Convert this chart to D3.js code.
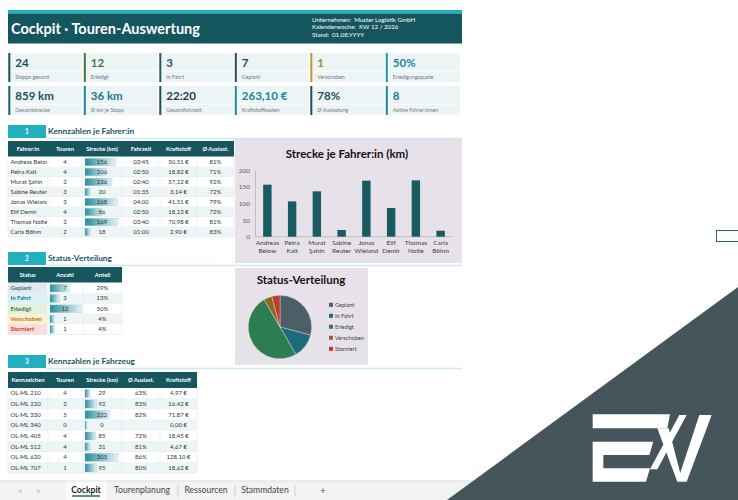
<!DOCTYPE html>
<html>
<head>
<meta charset="utf-8">
<script src="https://cdn.jsdelivr.net/npm/d3@7"></script>
<style>
body { margin: 0; background: #fff; }
svg { display: block; font-family: Lato, "Open Sans", sans-serif; }
</style>
</head>
<body>
<div id="sheet"></div>
<script>
// ---- data ----
const kpiValues1 = ["24", "12", "3", "7", "1", "50%"];
const kpiLabels1 = ["Stopps gesamt", "Erledigt", "In Fahrt", "Geplant", "Verschoben", "Erledigungsquote"];
const kpiValues2 = ["859 km", "36 km", "22:20", "263,10 €", "78%", "8"];
const kpiLabels2 = ["Gesamtstrecke", "Ø km je Stopp", "Gesamtfahrzeit", "Kraftstoffkosten", "Ø Auslastung", "Aktive Fahrer:innen"];

const drivers = ["Andreas Below", "Petra Kalt", "Murat Şahin", "Sabine Reuter", "Jonas Wieland", "Elif Demir", "Thomas Nolte", "Carla Böhm"];
const driverTours = [4, 4, 2, 3, 3, 4, 2, 2];
const driverKm = [156, 106, 136, 20, 168, 86, 169, 18];
const driverTime = ["03:45", "02:50", "02:40", "01:35", "04:00", "02:50", "03:40", "01:00"];
const driverFuel = ["50,51 €", "18,82 €", "57,12 €", "3,14 €", "41,51 €", "18,13 €", "70,98 €", "2,90 €"];
const driverLoad = ["81%", "71%", "92%", "72%", "79%", "72%", "81%", "83%"];
const kmTicks = [0, 50, 100, 150, 200];

const statusNames = ["Geplant", "In Fahrt", "Erledigt", "Verschoben", "Storniert"];
const statusCounts = [7, 3, 12, 1, 1];
const statusShares = ["29%", "13%", "50%", "4%", "4%"];

const vehicles = ["OL-ML 210", "OL-ML 220", "OL-ML 330", "OL-ML 340", "OL-ML 405", "OL-ML 512", "OL-ML 620", "OL-ML 707"];
const vehicleTours = [4, 2, 5, 0, 4, 4, 4, 1];
const vehicleKm = [29, 92, 222, 0, 85, 31, 305, 95];
const vehicleLoad = ["63%", "83%", "82%", "", "72%", "81%", "86%", "80%"];
const vehicleFuel = ["4,97 €", "16,42 €", "71,87 €", "0,00 €", "18,45 €", "4,67 €", "128,10 €", "18,62 €"];

const sheetTabs = ["Cockpit", "Tourenplanung", "Ressourcen", "Stammdaten"];

// ---- styles ----
const teal = "#17565f";
const kpiBorder1 = ["#1d4f5c", "#3d7a3d", "#1d5e6e", "#2f4a52", "#c8962a", "#1a9aa8"];
const kpiColor1 = ["#1d4f5c", "#3d7a3d", "#1d5e6e", "#263c44", "#b8862a", "#1a8a96"];
const kpiBorder2 = ["#1d5e6e", "#1a8a96", "#1d4f5c", "#1a8a96", "#1d4f5c", "#1a8a96"];
const kpiColor2 = ["#1d4f5c", "#1a7a8a", "#1d3f4a", "#1a8a96", "#1d4f5c", "#1a7a8a"];
const statusFill = ["#e3e9ed", "#dcf0f6", "#e3f2dd", "#fdf1d2", "#fadede"];
const statusText = ["#4d6b78", "#1a7a9a", "#3a7a3a", "#b07a1a", "#c23c3c"];
const pieColors = ["#4c5f66", "#1b6b7b", "#2e7d52", "#8b6b1d", "#c0392b"];

const svg = d3.select("#sheet").append("svg")
    .attr("width", 738)
    .attr("height", 500);

const defs = svg.append("defs");
const grad = defs.append("linearGradient").attr("id", "dbar");
grad.append("stop").attr("offset", "0%").attr("stop-color", "#2a8c9c");
grad.append("stop").attr("offset", "100%").attr("stop-color", "#e6f4f7");

// ---- header ----
svg.append("rect").attr("x", 8).attr("y", 10).attr("width", 454).attr("height", 3.5).attr("fill", "#1fb0c2");
svg.append("rect").attr("x", 8).attr("y", 13.5).attr("width", 454).attr("height", 30).attr("fill", "#15555e");
svg.append("text")
    .attr("x", 11).attr("y", 33.5)
    .attr("fill", "#fff").attr("font-size", 14.5).attr("font-weight", "bold")
    .text("Cockpit  ·  Touren-Auswertung");

const info = [["Unternehmen:", "Muster Logistik GmbH"], ["Kalenderwoche:", "KW 12 / 2026"], ["Stand:", "01.08.YYYY"]];
info.forEach((d, i) => {
    const t = svg.append("text")
        .attr("x", 312).attr("y", 21.5 + i * 7.8)
        .attr("fill", "#fff").attr("font-size", 6.2);
    t.append("tspan").text(d[0]);
    t.append("tspan").attr("dx", 3).text(d[1]);
});

// ---- KPI cards ----
function kpiRow(values, labels, borders, colors, y) {
    values.forEach((v, i) => {
        const x = 8.3 + i * 75.5;
        svg.append("rect").attr("x", x).attr("y", y).attr("width", 74).attr("height", 29).attr("fill", "#edf4f6");
        svg.append("line").attr("x1", x + 2).attr("x2", x + 74).attr("y1", y + 18).attr("y2", y + 18)
            .attr("stroke", "#fff").attr("stroke-width", 1);
        svg.append("rect").attr("x", x).attr("y", y).attr("width", 2).attr("height", 29).attr("fill", borders[i]);
        svg.append("text").attr("x", x + 7).attr("y", y + 14)
            .attr("fill", colors[i]).attr("font-size", 11.5).attr("font-weight", "bold").text(v);
        svg.append("text").attr("x", x + 7).attr("y", y + 25.5)
            .attr("fill", "#6d7d83").attr("font-size", 5.3).text(labels[i]);
    });
}
kpiRow(kpiValues1, kpiLabels1, kpiBorder1, kpiColor1, 53);
kpiRow(kpiValues2, kpiLabels2, kpiBorder2, kpiColor2, 86);

// ---- section titles ----
function section(y, num, title) {
    svg.append("line").attr("x1", 46).attr("x2", 462).attr("y1", y + 13.5).attr("y2", y + 13.5)
        .attr("stroke", "#cdeaf0").attr("stroke-width", 1.5);
    svg.append("rect").attr("x", 8).attr("y", y).attr("width", 38).attr("height", 13).attr("fill", "#22afc0");
    svg.append("text").attr("x", 27).attr("y", y + 9).attr("text-anchor", "middle")
        .attr("fill", "#fff").attr("font-size", 6.5).attr("font-weight", "bold").text(num);
    svg.append("text").attr("x", 48).attr("y", y + 9)
        .attr("fill", "#17555e").attr("font-size", 8.3).attr("font-weight", "bold").text(title);
}
section(125, "1", "Kennzahlen je Fahrer:in");
section(252, "2", "Status-Verteilung");
section(355, "3", "Kennzahlen je Fahrzeug");

// ---- tables ----
let clipId = 0;
function drawTable(cfg) {
    const g = svg.append("g");
    const cols = cfg.cols;
    const x0 = cols[0], x1 = cols[cols.length - 1];
    const rowsBottom = cfg.rowY + cfg.rows.length * cfg.rowH;

    g.append("rect").attr("x", x0).attr("y", cfg.headY).attr("width", x1 - x0).attr("height", cfg.headH).attr("fill", teal);
    cfg.headers.forEach((h, j) => {
        g.append("text")
            .attr("x", (cols[j] + cols[j + 1]) / 2).attr("y", cfg.headY + cfg.headH / 2 + 2)
            .attr("text-anchor", "middle").attr("fill", "#fff")
            .attr("font-size", 5.8).attr("font-weight", "bold").text(h);
    });

    const cid = "clip" + (clipId++);
    defs.append("clipPath").attr("id", cid).append("rect")
        .attr("x", cols[0]).attr("y", cfg.rowY).attr("width", cols[1] - cols[0] - 1).attr("height", rowsBottom - cfg.rowY);

    cfg.rows.forEach((row, i) => {
        const y = cfg.rowY + i * cfg.rowH;
        g.append("rect").attr("x", x0).attr("y", y).attr("width", x1 - x0).attr("height", cfg.rowH)
            .attr("fill", i % 2 ? "#eef5f7" : "#fff");
        if (cfg.firstFill) {
            g.append("rect").attr("x", x0).attr("y", y).attr("width", cols[1] - cols[0]).attr("height", cfg.rowH)
                .attr("fill", cfg.firstFill[i]);
        }
        row.forEach((v, j) => {
            const cx = (cols[j] + cols[j + 1]) / 2;
            if (j === cfg.barCol) {
                g.append("rect")
                    .attr("x", cols[j] + 3).attr("y", y + 1.3)
                    .attr("width", cfg.barScale(v)).attr("height", cfg.rowH - 2.6)
                    .attr("fill", "url(#dbar)").attr("stroke", "#7fc2cc").attr("stroke-width", 0.3);
            }
            const t = g.append("text")
                .attr("y", y + cfg.rowH / 2 + 2)
                .attr("font-size", 6)
                .text(v);
            if (j === 0) {
                t.attr("x", cols[0] + 2.5).attr("clip-path", `url(#${cid})`)
                    .attr("fill", cfg.firstColor ? cfg.firstColor[i] : "#333")
                    .attr("font-weight", cfg.firstColor ? "bold" : null);
            } else {
                t.attr("x", cx).attr("text-anchor", "middle").attr("fill", "#333");
            }
        });
        g.append("line").attr("x1", x0).attr("x2", x1).attr("y1", y + cfg.rowH).attr("y2", y + cfg.rowH)
            .attr("stroke", "#dde7ea").attr("stroke-width", 0.5);
    });
    cols.forEach(c => {
        g.append("line").attr("x1", c).attr("x2", c).attr("y1", cfg.rowY).attr("y2", rowsBottom)
            .attr("stroke", "#dde7ea").attr("stroke-width", 0.5);
    });
}

const driverBar = d3.scaleLinear().domain([0, d3.max(driverKm)]).range([2, 33]);
drawTable({
    cols: [8, 48, 82, 122, 160, 197, 234],
    headY: 141, headH: 15.5, rowY: 157, rowH: 10,
    headers: ["Fahrer:in", "Touren", "Strecke (km)", "Fahrzeit", "Kraftstoff", "Ø Auslast."],
    rows: drivers.map((d, i) => [d, driverTours[i], driverKm[i], driverTime[i], driverFuel[i], driverLoad[i]]),
    barCol: 2, barScale: driverBar
});

const statusBar = d3.scaleLinear().domain([0, d3.max(statusCounts)]).range([2, 32]);
drawTable({
    cols: [8, 47, 83, 122],
    headY: 267, headH: 15.5, rowY: 283, rowH: 10.3,
    headers: ["Status", "Anzahl", "Anteil"],
    rows: statusNames.map((d, i) => [d, statusCounts[i], statusShares[i]]),
    barCol: 1, barScale: statusBar,
    firstFill: statusFill, firstColor: statusText
});

const vehicleBar = d3.scaleLinear().domain([0, d3.max(vehicleKm)]).range([2, 33]);
drawTable({
    cols: [8, 48, 82, 122, 160, 197],
    headY: 372, headH: 16, rowY: 388, rowH: 10.66,
    headers: ["Kennzeichen", "Touren", "Strecke (km)", "Ø Auslast.", "Kraftstoff"],
    rows: vehicles.map((d, i) => [d, vehicleTours[i], vehicleKm[i], vehicleLoad[i], vehicleFuel[i]]),
    barCol: 2, barScale: vehicleBar
});

// ---- bar chart: Strecke je Fahrer:in ----
svg.append("rect").attr("x", 235).attr("y", 139).attr("width", 227).attr("height", 124).attr("fill", "#e7e2ea");
svg.append("text").attr("x", 347).attr("y", 157.5).attr("text-anchor", "middle")
    .attr("fill", "#111").attr("font-size", 11.5).attr("font-weight", "bold").text("Strecke je Fahrer:in (km)");

const x = d3.scaleBand().domain(drivers).range([255, 453]).paddingInner(0.66).paddingOuter(0.33);
const y = d3.scaleLinear().domain([0, 200]).range([236.7, 170]);

const yAxis = svg.append("g").attr("transform", "translate(255,0)")
    .call(d3.axisLeft(y).tickValues(kmTicks).tickSize(0).tickPadding(5));
yAxis.select(".domain").attr("stroke", "#bfbfbf");
yAxis.selectAll("text").attr("fill", "#595959").attr("font-size", 6.5).attr("font-family", "Lato, sans-serif");

svg.append("line").attr("x1", 255).attr("x2", 453).attr("y1", y(0)).attr("y2", y(0)).attr("stroke", "#bfbfbf");

svg.append("g").selectAll("rect")
    .data(drivers)
    .join("rect")
    .attr("x", d => x(d))
    .attr("y", (d, i) => y(driverKm[i]))
    .attr("width", x.bandwidth())
    .attr("height", (d, i) => y(0) - y(driverKm[i]))
    .attr("fill", "#195b63");

svg.append("g").selectAll("text")
    .data(drivers)
    .join("text")
    .attr("x", d => x(d) + x.bandwidth() / 2)
    .attr("y", 245)
    .attr("text-anchor", "middle")
    .attr("fill", "#404040")
    .attr("font-size", 6.5)
    .each(function (d) {
        const parts = d.split(" ");
        d3.select(this).append("tspan").attr("x", x(d) + x.bandwidth() / 2).text(parts[0]);
        d3.select(this).append("tspan").attr("x", x(d) + x.bandwidth() / 2).attr("dy", 8).text(parts.slice(1).join(" "));
    });

// ---- pie chart: Status-Verteilung ----
svg.append("rect").attr("x", 235).attr("y", 268).attr("width", 133).attr("height", 97).attr("fill", "#e7e2ea");
svg.append("text").attr("x", 301).attr("y", 284).attr("text-anchor", "middle")
    .attr("fill", "#111").attr("font-size", 11.5).attr("font-weight", "bold").text("Status-Verteilung");

const pie = d3.pie().sort(null).value(d => d);
const arc = d3.arc().innerRadius(0).outerRadius(31.7);
svg.append("g").attr("transform", "translate(280,327)")
    .selectAll("path")
    .data(pie(statusCounts))
    .join("path")
    .attr("d", arc)
    .attr("fill", (d, i) => pieColors[i])
    .attr("stroke", "#e7e2ea")
    .attr("stroke-width", 0.4);

const legend = svg.append("g").selectAll("g")
    .data(statusNames)
    .join("g")
    .attr("transform", (d, i) => `translate(329,${305 + i * 11})`);
legend.append("rect").attr("x", 0).attr("y", -2.2).attr("width", 4).attr("height", 4)
    .attr("fill", (d, i) => pieColors[i]);
legend.append("text").attr("x", 6).attr("y", 1.8).attr("fill", "#404040").attr("font-size", 5.6).text(d => d);

// ---- sheet tabs ----
svg.append("rect").attr("x", 0).attr("y", 481).attr("width", 738).attr("height", 19).attr("fill", "#f3f3f3");
svg.append("line").attr("x1", 0).attr("x2", 738).attr("y1", 481).attr("y2", 481).attr("stroke", "#dcdcdc");
svg.append("rect").attr("x", 66).attr("y", 481.5).attr("width", 41).attr("height", 18.5).attr("fill", "#fbfbfb");
svg.append("text").attr("x", 18).attr("y", 493.5).attr("fill", "#9a9a9a").attr("font-size", 8).text("<");
svg.append("text").attr("x", 36).attr("y", 493.5).attr("fill", "#9a9a9a").attr("font-size", 8).text(">");
const tabX = [86, 142, 206, 265];
sheetTabs.forEach((t, i) => {
    svg.append("text").attr("x", tabX[i]).attr("y", 493.3).attr("text-anchor", "middle")
        .attr("fill", i === 0 ? "#1f1f1f" : "#444").attr("font-size", 8.6)
        .attr("font-weight", i === 0 ? "bold" : null).text(t);
});
svg.append("line").attr("x1", 72).attr("x2", 100).attr("y1", 496).attr("y2", 496).attr("stroke", "#217346").attr("stroke-width", 1.5);
[178, 235, 295].forEach(sx => {
    svg.append("line").attr("x1", sx).attr("x2", sx).attr("y1", 485).attr("y2", 497).attr("stroke", "#d0d0d0");
});
svg.append("text").attr("x", 323).attr("y", 494).attr("text-anchor", "middle").attr("fill", "#555").attr("font-size", 10).text("+");

// selected cell outline
svg.append("rect").attr("x", 716.5).attr("y", 230.5).attr("width", 24).attr("height", 11)
    .attr("fill", "none").attr("stroke", "#217346").attr("stroke-width", 1);

// ---- watermark corner ----
svg.append("path").attr("d", "M447,500 L738,287 L738,500 Z").attr("fill", "#45555b");
const logo = svg.append("g").attr("transform", "translate(570,400) scale(0.3333)").attr("fill", "#fff");
logo.append("path").attr("d", "M68,43 H300 L292,85 H68 Z");
logo.append("path").attr("d", "M68,125 H250 L238,165 H100 V205 H240 L228,245 H68 Z");
logo.append("path").attr("d", "M262,85 H296 L334,232 L322,245 Z");
logo.append("path").attr("d", "M240,208 L262,208 L350,45 L328,45 Z");
logo.append("path").attr("d", "M322,245 L350,245 L425,45 L388,45 Z");
</script>
</body>
</html>
